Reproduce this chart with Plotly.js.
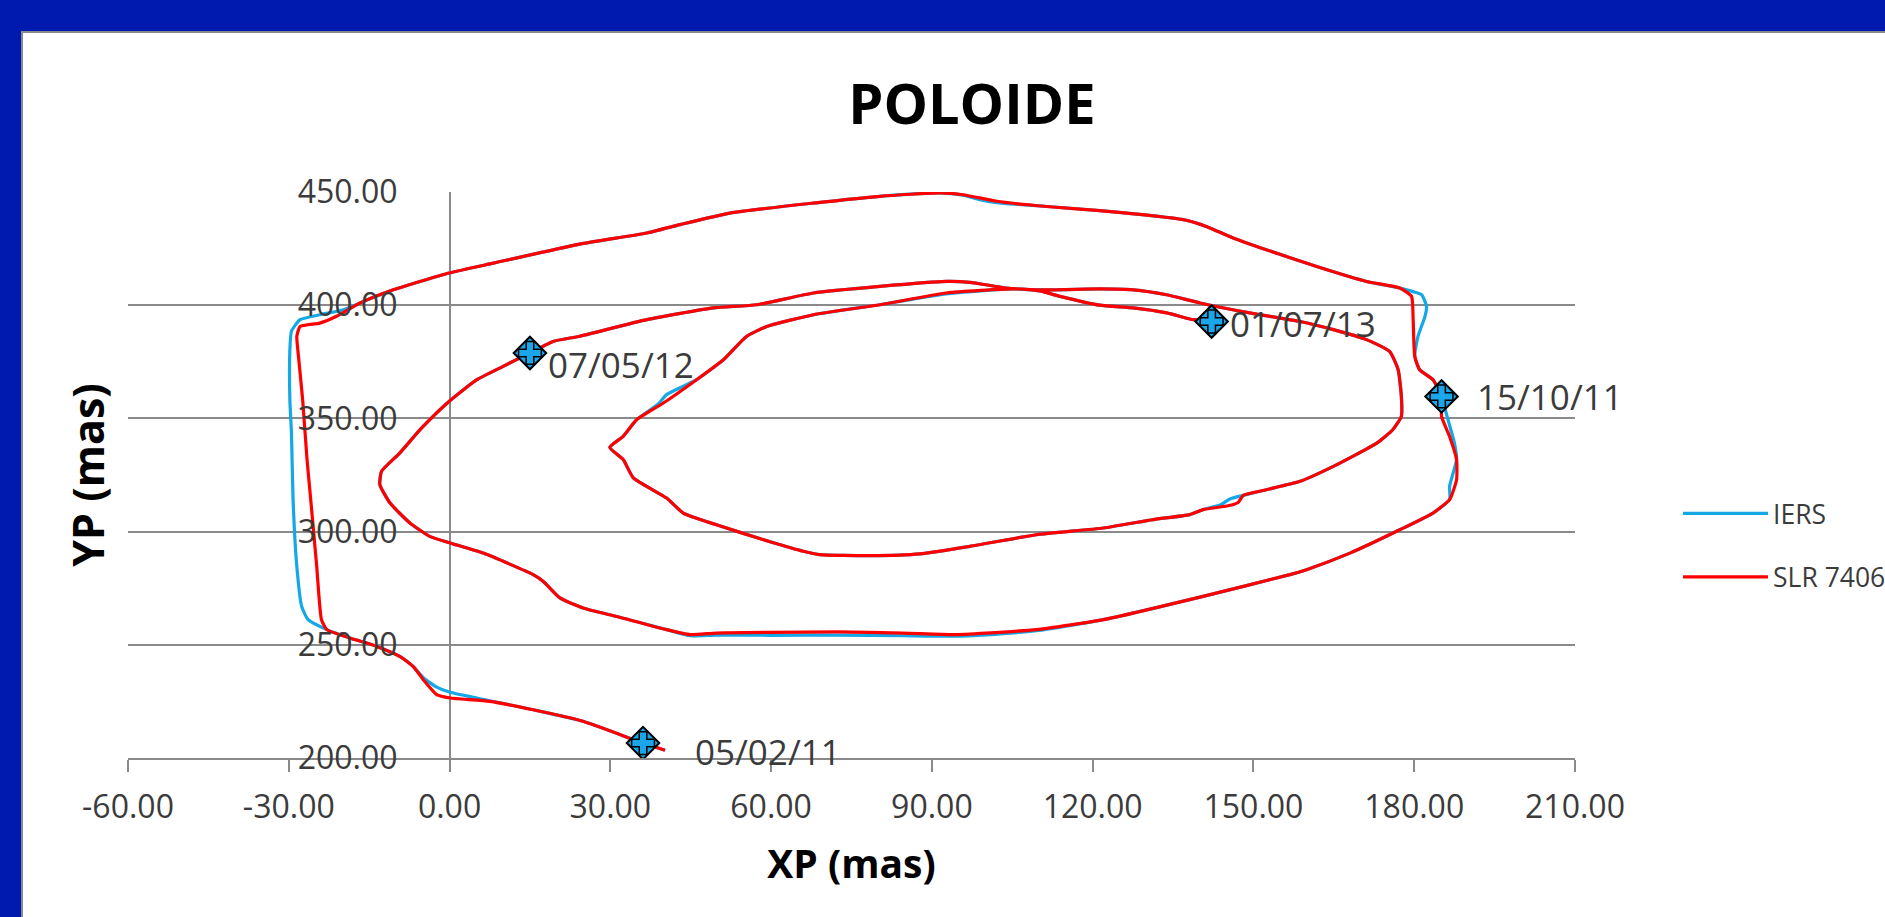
<!DOCTYPE html>
<html><head><meta charset="utf-8">
<script src="https://cdn.plot.ly/plotly-3.0.1.min.js"></script>
<style>
html,body{margin:0;padding:0;background:#001AAF;width:1885px;height:917px;overflow:hidden;}
#frame{position:absolute;left:21px;top:31px;width:1864px;height:886px;background:#ffffff;border-top:2px solid #8a8a8a;border-left:2px solid #8a8a8a;box-sizing:border-box;}
#chart{position:absolute;left:0;top:0;width:1885px;height:917px;}
</style></head><body>
<div id="frame"></div><div id="chart"></div>
<script>
// ---- data ----
const seriesNames = ['IERS', 'SLR 7406'];

const slrXP = [40.2,36.1,24.9,15.6,7.5,0.1,-2.4,-4.9,-6.8,-9.3,-13.6,-18.6,-22.9,-23.9,-24.8,-25.9,-26.6,-27.4,-28.3,-28.5,-27.9,-24.2,-21.1,-16.7,-10.5,-0.1,8.2,24.3,36.8,43.0,52.3,67.9,80.3,91.5,95.8,102.1,111.4,121.3,136.9,141.2,146.2,152.4,161.8,171.1,177.3,179.5,179.8,180.1,181.0,183.5,185.1,185.1,186.6,187.9,187.9,186.6,183.5,177.3,168.0,159.9,156.8,140.6,122.0,109.5,100.2,94.0,84.6,72.2,59.8,49.8,44.9,40.5,31.2,24.9,20.6,17.5,15.6,6.3,0.1,-3.7,-7.4,-11.1,-13.0,-12.7,-9.3,-5.2,-0.1,5.1,10.0,15.0,
  19.3,24.3,36.8,49.2,57.3,67.9,80.3,92.7,97.1,103.9,111.4,121.3,127.6,133.8,140.0,149.3,158.7,164.9,171.1,175.4,177.0,177.6,177.6,176.0,173.0,164.9,158.7,152.4,148.1,147.2,145.5,140.6,138.1,131.3,122.0,109.5,97.1,87.8,78.4,69.1,66.0,59.8,49.8,43.6,40.5,34.3,32.4,29.9,32.4,34.9,39.9,46.1,51.1,55.4,59.2,67.9,80.3,92.7,105.2,110.1,113.9,121.3,127.6,133.8,138.8,142.2];
const slrYP = [203.4,206.6,216.2,221.3,225.0,226.5,228.0,234.6,240.5,244.9,249.3,253.0,256.7,261.1,285.0,314.0,332.0,358.0,380.0,386.2,390.6,392.1,395.1,401.0,406.8,414.2,418.6,427.0,431.9,435.6,440.7,445.1,448.1,449.6,448.8,445.9,443.6,441.8,437.8,434.8,429.7,424.5,417.1,410.5,407.6,403.9,393.6,377.4,371.5,367.1,359.7,350.9,342.0,331.8,322.9,314.1,308.2,300.8,290.5,283.2,281.0,271.4,261.1,256.7,255.2,254.5,255.2,255.7,255.5,255.2,254.5,256.7,262.5,266.3,270.7,278.0,281.0,290.5,295.0,297.9,303.8,312.6,320.7,326.6,334.7,345.8,357.5,367.1,373.0,378.9,
  384.0,386.3,393.6,398.8,400.2,405.4,408.3,410.5,410.1,407.6,406.8,407.2,406.8,404.6,401.0,396.6,392.8,389.2,384.8,379.6,371.5,359.7,350.9,345.0,339.1,328.8,322.2,318.5,316.0,313.0,311.5,309.7,307.5,305.3,301.6,298.6,293.5,290.2,289.4,289.8,291.3,295.5,303.0,308.2,314.8,323.7,331.8,337.2,342.1,349.4,356.8,367.1,375.9,386.2,390.6,395.8,400.2,405.4,407.2,406.3,403.9,400.0,398.8,396.6,393.6,392.8];

const iersXP = [40.2,36.1,24.9,15.6,7.5,0.1,-2.4,-4.9,-6.8,-9.3,-13.6,-18.6,-22.9,-26.4,-27.6,-28.5,-29.2,-29.5,-29.8,-29.8,-29.5,-27.9,-24.2,-19.8,-16.7,-10.5,-0.1,8.2,24.3,36.8,43.0,52.3,67.9,80.3,91.5,95.8,98.9,102.1,111.4,121.3,136.9,141.2,146.2,152.4,161.8,171.1,177.3,179.8,181.4,182.3,182.0,180.7,180.1,181.0,183.5,185.1,186.3,187.5,187.9,186.6,186.6,183.5,177.3,168.0,159.9,156.8,140.6,122.0,109.5,100.2,94.0,84.6,72.2,59.8,49.8,44.9,40.5,31.2,24.9,20.6,17.5,15.6,6.3,0.1,-3.7,-7.4,-11.1,-13.0,-12.7,-9.3,-5.2,-0.1,5.1,10.0,15.0,
  19.3,24.3,36.8,49.2,57.3,67.9,80.3,92.7,97.1,103.9,111.4,121.3,127.6,133.8,140.0,149.3,158.7,164.9,171.1,175.4,177.0,177.6,177.6,176.0,173.0,164.9,158.7,152.4,148.1,145.6,144.0,140.6,138.1,131.3,122.0,109.5,97.1,87.8,78.4,69.1,66.0,59.8,49.8,43.6,40.5,34.3,32.4,29.9,32.4,34.9,39.0,40.5,46.1,51.1,55.4,59.2,67.9,80.3,92.7,105.2,110.1,113.9,121.3,127.6,133.8,138.8,142.2];
const iersYP = [203.4,206.6,216.2,221.3,225.3,229.0,231.3,235.5,240.5,244.9,249.3,253.0,256.7,261.1,267.0,284.6,314.0,343.6,358.3,380.0,388.5,393.6,395.8,398.0,401.0,406.8,414.2,418.6,427.0,431.9,435.6,440.7,445.1,448.1,449.6,448.6,446.6,445.3,443.6,441.8,437.8,434.8,429.7,424.5,417.1,410.5,407.6,406.0,404.6,399.5,395.0,386.2,377.4,371.5,367.1,359.7,349.4,339.1,331.8,320.0,314.1,308.2,300.8,290.5,283.2,281.0,271.4,261.1,256.2,254.4,253.8,254.0,254.3,254.2,254.3,254.0,256.7,262.5,266.3,270.7,278.0,281.0,290.5,295.0,297.9,303.8,312.6,320.7,326.6,334.7,345.8,357.5,367.1,373.0,378.9,
  384.0,386.3,393.6,398.8,400.2,405.4,408.3,410.5,410.1,407.6,406.8,407.2,406.8,404.6,401.0,396.6,392.8,389.2,384.8,379.6,371.5,359.7,350.9,345.0,339.1,328.8,322.2,318.5,316.0,314.4,312.0,309.7,307.5,305.3,301.6,298.6,293.5,290.2,289.4,289.8,291.3,295.5,303.0,308.2,314.8,323.7,331.8,337.2,342.1,349.4,356.5,360.5,367.1,375.9,386.2,390.6,395.8,400.2,405.0,407.2,406.3,403.9,400.0,398.8,396.6,393.6,392.8];

const dateLabels = ['05/02/11', '15/10/11', '07/05/12', '01/07/13'];
const dateXP = [36.1, 185.1, 15.0, 142.2];
const dateYP = [206.6, 359.7, 378.9, 392.8];

const xTickValues = [-60, -30, 0, 30, 60, 90, 120, 150, 180, 210];
const xTickLabels = ['-60.00', '-30.00', '0.00', '30.00', '60.00', '90.00', '120.00', '150.00', '180.00', '210.00'];
const yTickValues = [200, 250, 300, 350, 400, 450];
const yTickLabels = ['200.00', '250.00', '300.00', '350.00', '400.00', '450.00'];

// ---- style ----
const FONT = '"Open Sans", Lato, sans-serif';
const TXT = '#3b3b3b';
const GRID = '#8a8a8a';
const labelShiftX = [50, 33, 16, 16];
const labelShiftY = [-8, 0, -12, -2];

const traces = [
  {x: iersXP, y: iersYP, name: seriesNames[0], type: 'scatter', mode: 'lines',
   line: {color: '#14A8E6', width: 3.2, shape: 'spline', smoothing: 0.5}, legendgroup: 'a', hoverinfo: 'skip'},
  {x: slrXP, y: slrYP, name: seriesNames[1], type: 'scatter', mode: 'lines',
   line: {color: '#FF0000', width: 3.2, shape: 'spline', smoothing: 0.5}, legendgroup: 'b', hoverinfo: 'skip'},
  {x: dateXP, y: dateYP, type: 'scatter', mode: 'markers', showlegend: false, hoverinfo: 'skip',
   marker: {symbol: 'diamond', size: 25, color: '#1CA6EA', line: {color: '#000', width: 2}}},
  {x: dateXP, y: dateYP, type: 'scatter', mode: 'markers', showlegend: false, hoverinfo: 'skip',
   marker: {symbol: 'cross', size: 19, color: '#1CA6EA', line: {color: '#000', width: 1.5}}}
];

const annotations = dateLabels.map((t, i) => ({
  x: dateXP[i], y: dateYP[i], xref: 'x', yref: 'y', text: t, showarrow: false,
  xanchor: 'left', yanchor: 'middle', xshift: labelShiftX[i], yshift: labelShiftY[i],
  font: {family: FONT, size: 35, color: TXT}
}));

const layout = {
  width: 1885, height: 917, autosize: false,
  paper_bgcolor: 'rgba(0,0,0,0)', plot_bgcolor: 'rgba(0,0,0,0)',
  margin: {l: 128, r: 310, t: 192, b: 159, pad: 0, autoexpand: false},
  font: {family: FONT, color: TXT},
  title: {text: 'POLOIDE', font: {family: FONT, size: 56, weight: 'bold', color: '#000'},
          x: 0.5156, xanchor: 'center', y: 0.886, yanchor: 'middle', xref: 'container', yref: 'container'},
  xaxis: {
    range: [-60, 210], tickvals: xTickValues, ticktext: xTickLabels,
    showgrid: false, zeroline: true, zerolinecolor: GRID, zerolinewidth: 2,
    showline: true, linecolor: GRID, linewidth: 2,
    ticks: 'outside', ticklen: 12, tickcolor: GRID, tickwidth: 2,
    tickfont: {family: FONT, size: 32, color: TXT}, ticklabelstandoff: 8,
    title: {text: 'XP (mas)', font: {family: FONT, size: 39, weight: 'bold', color: '#000'}, standoff: 24},
    fixedrange: true
  },
  yaxis: {
    range: [200, 450], tickvals: yTickValues, ticktext: yTickLabels,
    anchor: 'free', position: 60 / 270, side: 'left',
    showgrid: true, gridcolor: GRID, gridwidth: 2, zeroline: false, showline: false,
    ticks: '', tickfont: {family: FONT, size: 32, color: TXT}, ticklabelstandoff: 52,
    title: {text: 'YP (mas)', font: {family: FONT, size: 43, weight: 'bold', color: '#000'}, standoff: 178},
    fixedrange: true
  },
  showlegend: true,
  legend: {x: 1.0712, xanchor: 'left', y: 0.376, yanchor: 'middle', bgcolor: 'rgba(0,0,0,0)',
           font: {family: FONT, size: 26.5, color: TXT}, itemwidth: 85, tracegroupgap: 26,
           traceorder: 'grouped'},
  annotations: annotations
};

Plotly.newPlot('chart', traces, layout, {staticPlot: true, displayModeBar: false});
</script>
</body></html>
